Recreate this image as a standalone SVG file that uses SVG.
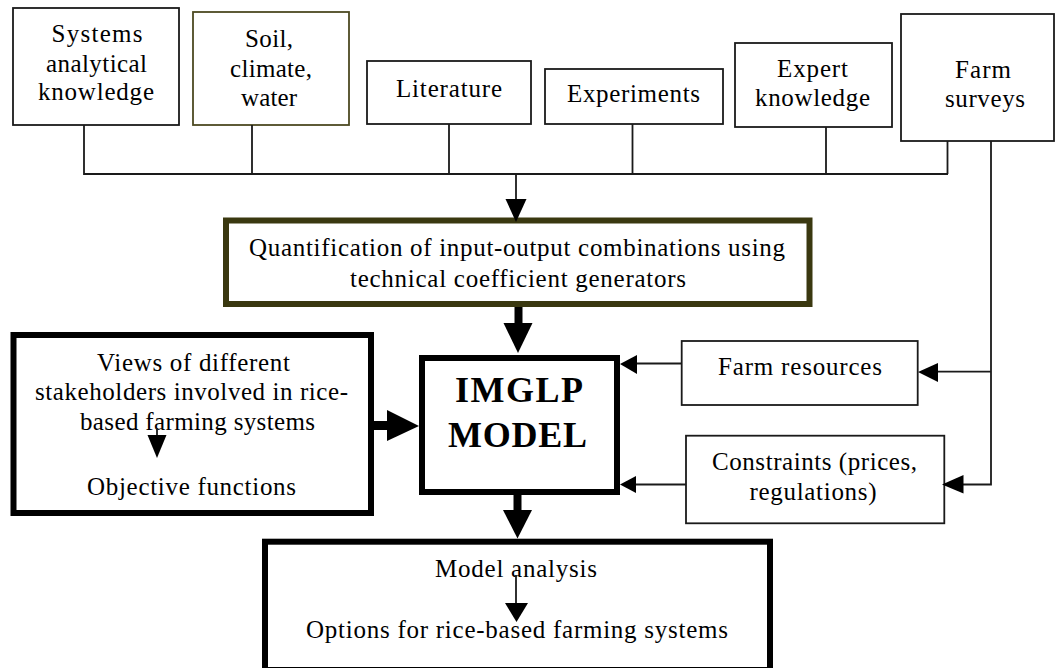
<svg xmlns="http://www.w3.org/2000/svg" width="1056" height="668" viewBox="0 0 1056 668">
<style>
  .box{fill:#fff;stroke:#1a1a1a;stroke-width:1.8}
  .olive{fill:#fff;stroke:#4d4a22;stroke-width:1.8}
  .thick{fill:#fff;stroke:#000;stroke-width:6}
  .quant{fill:#fff;stroke:#3a3810;stroke-width:6}
  text{font-family:'Liberation Serif','DejaVu Serif','Times New Roman',serif;fill:#000;text-anchor:middle}
  .t{font-size:25px}
  .b{font-size:36px;font-weight:bold}
  .ln{fill:none;stroke:#1a1a1a;stroke-width:1.8}
  .tk{fill:none;stroke:#000}
  .ah{fill:#000;stroke:none}
</style>
<rect width="1056" height="668" fill="#fff"/>
<g id="systems">
  <rect class="box" x="13" y="8" width="166" height="117"/>
  <text class="t" x="97" y="42" textLength="91">Systems</text>
  <text class="t" x="96.5" y="72" textLength="101">analytical</text>
  <text class="t" x="96" y="100" textLength="116">knowledge</text>
</g>
<g id="soil">
  <rect class="olive" x="193" y="12" width="156" height="113"/>
  <text class="t" x="269" y="47" textLength="48">Soil,</text>
  <text class="t" x="271" y="77" textLength="82">climate,</text>
  <text class="t" x="269" y="106" textLength="56">water</text>
</g>
<g id="literature">
  <rect class="box" x="367" y="61" width="164" height="63"/>
  <text class="t" x="449" y="97" textLength="106">Literature</text>
</g>
<g id="experiments">
  <rect class="box" x="545" y="69" width="178" height="55"/>
  <text class="t" x="633.5" y="102" textLength="133">Experiments</text>
</g>
<g id="expert">
  <rect class="box" x="735" y="43" width="157" height="84"/>
  <text class="t" x="812.5" y="77" textLength="71">Expert</text>
  <text class="t" x="812.5" y="106" textLength="115">knowledge</text>
</g>
<g id="farm-surveys">
  <rect class="box" x="901" y="14" width="153" height="127"/>
  <text class="t" x="983" y="78" textLength="56">Farm</text>
  <text class="t" x="985" y="107" textLength="80">surveys</text>
</g>
<g id="quantification">
  <rect class="quant" x="226" y="220.5" width="583.5" height="83.5"/>
  <text class="t" x="517" y="256" textLength="536">Quantification of input-output combinations using</text>
  <text class="t" x="518" y="287" textLength="336">technical coefficient generators</text>
</g>
<g id="views">
  <rect class="thick" x="13.5" y="335" width="357.5" height="178"/>
  <text class="t" x="193.5" y="371" textLength="193">Views of different</text>
  <text class="t" x="191.5" y="399.5" textLength="313">stakeholders involved in rice-</text>
  <text class="t" x="197.5" y="430" textLength="235">based farming systems</text>
  <text class="t" x="191.5" y="495" textLength="209">Objective functions</text>
</g>
<g id="imglp">
  <rect class="thick" x="422" y="358" width="195" height="134"/>
  <text class="b" x="519" y="402" textLength="128">IMGLP</text>
  <text class="b" x="517.5" y="447" textLength="139">MODEL</text>
</g>
<g id="farm-resources">
  <rect class="box" x="681.7" y="341" width="236" height="64"/>
  <text class="t" x="800" y="375" textLength="164">Farm resources</text>
</g>
<g id="constraints">
  <rect class="box" x="686" y="435.7" width="258.3" height="87.6"/>
  <text class="t" x="814.5" y="470" textLength="205">Constraints (prices,</text>
  <text class="t" x="813" y="500" textLength="127">regulations)</text>
</g>
<g id="analysis">
  <rect class="thick" x="265" y="541.7" width="505" height="128.3"/>
  <text class="t" x="516" y="577" textLength="162">Model analysis</text>
  <text class="t" x="517" y="638" textLength="422">Options for rice-based farming systems</text>
</g>
<g id="connectors">
  <path class="ln" d="M84 125V174H948M252 125V174M449 124V174M632.5 124V174M826 127V174M947.5 141V174"/>
  <path class="ln" d="M516 174V200"/>
  <polygon class="ah" points="505.5,199 526.5,199 516,222"/>
  <path class="tk" stroke-width="8" d="M518.5 307V324"/>
  <polygon class="ah" points="503.5,323 532.5,323 518,353"/>
  <path class="tk" stroke-width="9" d="M373 425.5H388"/>
  <polygon class="ah" points="387,410 387,441 419,426"/>
  <path class="tk" stroke-width="8" d="M517.5 495V511"/>
  <polygon class="ah" points="503,510 532,510 517.5,538.5"/>
  <path class="ln" d="M681.7 363.5H636"/>
  <polygon class="ah" points="637,355 637,374 620,364"/>
  <path class="ln" d="M686 484.5H635"/>
  <polygon class="ah" points="636,476 636,493 620,484.5"/>
  <path class="ln" d="M991 141V484.5H963M991 371.7H938"/>
  <polygon class="ah" points="938,363 938,382 918,372"/>
  <polygon class="ah" points="963.5,475 963.5,493.5 942,484.5"/>
  <path class="ln" d="M157 428V436"/>
  <polygon class="ah" points="147.5,435 166.5,435 157,458"/>
  <path class="ln" d="M516 575V604"/>
  <polygon class="ah" points="505,603 528,603 516.5,622"/>
</g>
</svg>
